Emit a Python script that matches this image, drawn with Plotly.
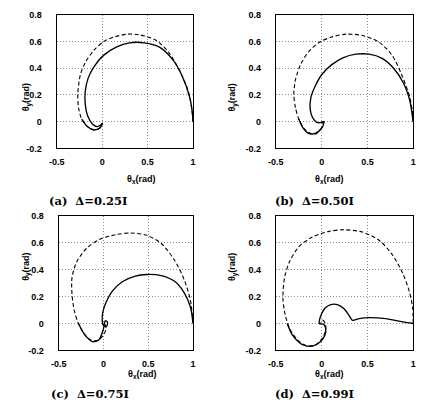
import plotly.graph_objects as go

W, H = 424, 413

# ---- data ----
a_dash_x = [1.0, 0.985, 0.946, 0.857, 0.73, 0.59, 0.41, 0.286, 0.125, 0.018, -0.089, -0.18, -0.24, -0.268, -0.26, -0.225, -0.16, -0.089, -0.025, 0.0]
a_dash_y = [0.0, 0.1, 0.23, 0.375, 0.52, 0.61, 0.65, 0.655, 0.633, 0.6, 0.535, 0.45, 0.35, 0.204, 0.105, 0.02, -0.037, -0.061, -0.047, -0.017]
a_sol_x = [1.0, 0.99, 0.964, 0.875, 0.77, 0.625, 0.464, 0.30, 0.16, 0.018, -0.089, -0.154, -0.186, -0.186, -0.16, -0.107, -0.054, -0.011, 0.005, -0.025, -0.089, -0.16, -0.225]
a_sol_y = [0.0, 0.08, 0.18, 0.35, 0.47, 0.56, 0.59, 0.59, 0.56, 0.498, 0.412, 0.326, 0.228, 0.13, 0.044, -0.017, -0.037, -0.022, -0.01, -0.047, -0.061, -0.037, 0.02]

b_dash_x = [1.0, 0.99, 0.964, 0.875, 0.768, 0.625, 0.446, 0.268, 0.107, -0.018, -0.143, -0.232, -0.286, -0.304, -0.286, -0.25, -0.196, -0.125, -0.061, -0.018, 0.018, 0.0]
b_dash_y = [0.0, 0.08, 0.18, 0.35, 0.498, 0.596, 0.645, 0.655, 0.633, 0.596, 0.523, 0.425, 0.314, 0.204, 0.105, 0.02, -0.047, -0.086, -0.091, -0.061, -0.017, 0.0]
b_sol_x = [1.0, 0.985, 0.964, 0.893, 0.786, 0.66, 0.518, 0.375, 0.232, 0.107, 0.0, -0.071, -0.118, -0.125, -0.1, -0.054, 0.0, 0.025, 0.011, -0.036, -0.089, -0.154, -0.204, -0.25]
b_sol_y = [0.0, 0.07, 0.155, 0.29, 0.40, 0.474, 0.505, 0.505, 0.478, 0.425, 0.351, 0.265, 0.18, 0.093, 0.032, -0.005, -0.005, 0.002, -0.037, -0.074, -0.091, -0.083, -0.047, 0.02]

c_dash_x = [1.0, 0.971, 0.90, 0.79, 0.645, 0.482, 0.30, 0.138, -0.043, -0.188, -0.297, -0.351, -0.351, -0.326, -0.279, -0.207, -0.123, -0.051, 0.0, 0.029, 0.011]
c_dash_y = [0.0, 0.17, 0.327, 0.473, 0.594, 0.655, 0.672, 0.66, 0.625, 0.558, 0.46, 0.34, 0.218, 0.097, 0.0, -0.085, -0.128, -0.121, -0.085, -0.036, 0.0]
c_sol_x = [1.0, 0.971, 0.90, 0.79, 0.645, 0.482, 0.355, 0.21, 0.101, 0.029, -0.007, -0.014, 0.0, 0.035, 0.045, 0.02, 0.0, -0.051, -0.123, -0.207, -0.279]
c_sol_y = [0.0, 0.121, 0.23, 0.315, 0.356, 0.364, 0.352, 0.31, 0.242, 0.158, 0.085, 0.024, -0.015, -0.02, 0.01, 0.02, -0.04, -0.121, -0.135, -0.085, 0.0]

d_dash_x = [1.0, 0.993, 0.956, 0.883, 0.774, 0.628, 0.445, 0.245, 0.08, -0.102, -0.248, -0.35, -0.405, -0.423, -0.401, -0.35, -0.266, -0.168, -0.066, 0.007, 0.044, 0.04, 0.012, -0.01]
d_dash_y = [0.0, 0.121, 0.242, 0.376, 0.509, 0.618, 0.679, 0.696, 0.684, 0.642, 0.57, 0.46, 0.34, 0.194, 0.073, -0.036, -0.121, -0.165, -0.158, -0.109, -0.05, 0.0, 0.025, 0.005]
d_sol_x = [1.0, 0.883, 0.70, 0.518, 0.409, 0.336, 0.299, 0.245, 0.172, 0.099, 0.036, 0.0, -0.022, -0.025, 0.02, 0.044, 0.036, -0.011, -0.1, -0.21, -0.32, -0.376]
d_sol_y = [0.0, 0.012, 0.036, 0.044, 0.036, 0.024, 0.06, 0.109, 0.14, 0.14, 0.114, 0.073, 0.03, 0.0, -0.005, -0.036, -0.085, -0.133, -0.168, -0.157, -0.085, 0.0]

panels = [
    (a_dash_x, a_dash_y, a_sol_x, a_sol_y),
    (b_dash_x, b_dash_y, b_sol_x, b_sol_y),
    (c_dash_x, c_dash_y, c_sol_x, c_sol_y),
    (d_dash_x, d_dash_y, d_sol_x, d_sol_y),
]
NB = "\u00a0"
captions = ["(a)" + NB * 2 + "Δ=0.25I", "(b)" + NB * 2 + "Δ=0.50I",
            "(c)" + NB * 2 + "Δ=0.75I", "(d)" + NB * 2 + "Δ=0.99I"]
x_tickvals = [-0.5, 0, 0.5, 1]
x_ticktext = ["-0.5", "0", "0.5", "1"]
y_tickvals = [-0.2, 0, 0.2, 0.4, 0.6, 0.8]
y_ticktext = ["-0.2", "0", "0.2", "0.4", "0.6", "0.8"]

# pixel boxes (left, right, top, bottom)
boxes = [(50, 190, 10, 147), (275, 416, 10, 147), (52, 190, 216, 354), (275, 416, 216, 354)]
cap_left = [40, 272, 42, 272]
ytitle_x = [11, 231, 11, 231]

fig = go.Figure()
tickfont = dict(family="Liberation Sans", size=9, color="black", weight="bold")

for i, ((dx, dy, sx, sy), (l, r, t, b)) in enumerate(zip(panels, boxes)):
    n = "" if i == 0 else str(i + 1)
    xa, ya = "x" + n, "y" + n
    fig.add_trace(go.Scatter(x=dx, y=dy, mode="lines", xaxis=xa, yaxis=ya,
                             line=dict(color="black", width=1.1, dash="4px,2.5px", shape="spline", smoothing=0.8),
                             showlegend=False))
    fig.add_trace(go.Scatter(x=sx, y=sy, mode="lines", xaxis=xa, yaxis=ya,
                             line=dict(color="black", width=1.35, shape="spline", smoothing=0.8),
                             showlegend=False))
    common = dict(showgrid=True, gridcolor="#8c8c8c", griddash="1px,2px", gridwidth=1,
                  zeroline=False, showline=True, linecolor="black", linewidth=1.3,
                  mirror=True, ticks="", tickfont=tickfont, fixedrange=True)
    fig.layout["xaxis" + n] = dict(domain=[l / W, r / W], range=[-0.5, 1.0], anchor=ya,
                                   tickvals=x_tickvals, ticktext=x_ticktext, ticklabelstandoff=5, **common)
    fig.layout["yaxis" + n] = dict(domain=[1 - b / H, 1 - t / H], range=[-0.2, 0.8], anchor=xa,
                                   tickvals=y_tickvals, ticktext=y_ticktext, ticklabelstandoff=12, **common)
    # axis titles
    fig.add_annotation(xref="paper", yref="paper", x=(l + r) / 2 / W, y=1 - (b + 32) / H,
                       text="θ<sub>x</sub>(rad)", showarrow=False,
                       font=dict(family="Liberation Sans", size=9, color="black", weight="bold"))
    fig.add_annotation(xref="paper", yref="paper", x=ytitle_x[i] / W, y=1 - (t + b) / 2 / H,
                       text="θ<sub>y</sub>(rad)", showarrow=False, textangle=-90,
                       font=dict(family="Liberation Sans", size=9, color="black", weight="bold"))
    fig.add_annotation(xref="paper", yref="paper", x=cap_left[i] / W, y=1 - (b + 54) / H,
                       xanchor="left", text=captions[i], showarrow=False,
                       font=dict(family="DejaVu Serif", size=11.5, color="black", weight="bold"))

fig.update_layout(width=W, height=H, margin=dict(l=0, r=0, t=0, b=0),
                  paper_bgcolor="white", plot_bgcolor="white")
fig.write_html("out.html")
